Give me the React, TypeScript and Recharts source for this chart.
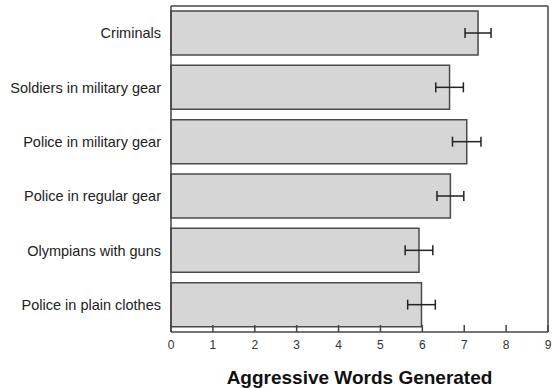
import { Bar, BarChart, ErrorBar, ReferenceLine, XAxis, YAxis } from "recharts";

const groups = [
  "Criminals",
  "Soldiers in military gear",
  "Police in military gear",
  "Police in regular gear",
  "Olympians with guns",
  "Police in plain clothes",
];
const words = [7.33, 6.65, 7.06, 6.67, 5.92, 5.98];
const spread = [0.31, 0.33, 0.34, 0.32, 0.33, 0.33];
const xTicks = [0, 1, 2, 3, 4, 5, 6, 7, 8, 9];

const rows = groups.map((g, i) => ({ group: g, words: words[i], err: spread[i] }));

const font = "'Liberation Sans', Arial, sans-serif";
const ink = "#444";

// inward tick marks on the top edge of the frame
const TopTick = (props: any) => {
  const { x, y } = props;
  return <line x1={x} x2={x} y1={y} y2={y + 7} stroke={ink} strokeWidth={1.5} />;
};

// inward tick mark plus number on the bottom axis
const BottomTick = (props: any) => {
  const { x, y, payload } = props;
  return (
    <g>
      <line x1={x} x2={x} y1={y - 8} y2={y - 15} stroke={ink} strokeWidth={1.5} />
      <text x={x} y={y} dy="0.71em" textAnchor="middle" fontSize={12} fill="#333">
        {payload.value}
      </text>
    </g>
  );
};

export default function App() {
  return (
    <div style={{ position: "absolute", left: 0, top: 0, fontFamily: font }}>
      <BarChart
        width={552}
        height={388}
        data={rows}
        layout="vertical"
        margin={{ top: 5, right: 4, bottom: 0, left: 0 }}
        barCategoryGap={5}
      >
        <XAxis
          xAxisId="top"
          orientation="top"
          type="number"
          domain={[0, 9]}
          ticks={xTicks}
          height={1}
          tickLine={false}
          tickSize={0}
          tickMargin={0}
          tick={<TopTick />}
          stroke={ink}
          strokeWidth={1.5}
        />
        <XAxis
          type="number"
          domain={[0, 9]}
          ticks={xTicks}
          height={56}
          tickLine={false}
          tickSize={0}
          tickMargin={8}
          tick={<BottomTick />}
          stroke={ink}
          strokeWidth={1.5}
          label={{
            value: "Aggressive Words Generated",
            position: "insideBottom",
            offset: 4,
            style: { fontSize: 19, fontWeight: "bold", fill: "#111" },
          }}
        />
        <YAxis
          type="category"
          dataKey="group"
          width={171}
          tickLine={false}
          tickSize={0}
          tickMargin={10}
          stroke={ink}
          strokeWidth={1.5}
          tick={{ fontSize: 14.5, fill: "#222" }}
        />
        <ReferenceLine x={9} stroke={ink} strokeWidth={1.5} ifOverflow="visible" />
        <Bar
          dataKey="words"
          fill="#d6d6d6"
          stroke="#4a4a4a"
          strokeWidth={1.5}
          isAnimationActive={false}
        >
          <ErrorBar dataKey="err" direction="x" width={5} stroke="#222" strokeWidth={1.5} />
        </Bar>
      </BarChart>
    </div>
  );
}
